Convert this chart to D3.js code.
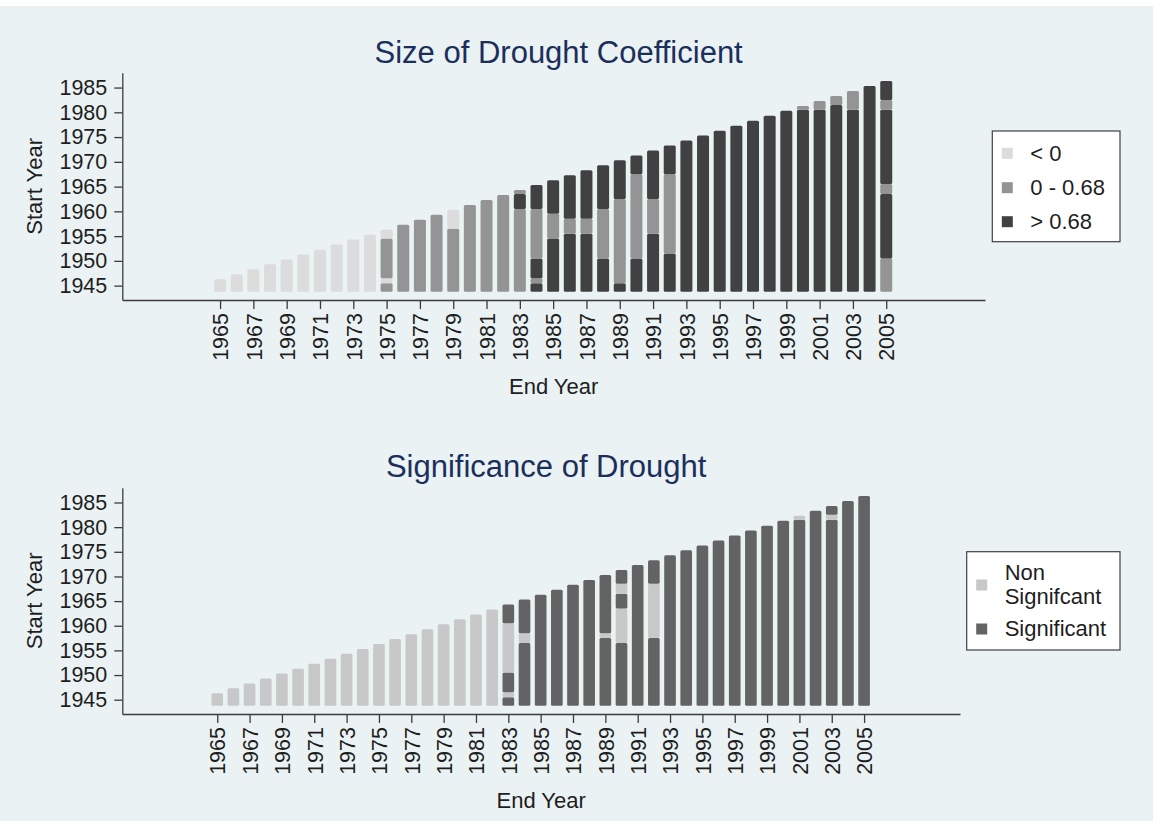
<!DOCTYPE html>
<html>
<head>
<meta charset="utf-8">
<script src="https://cdn.jsdelivr.net/npm/d3@7"></script>
<style>
  body { margin: 0; background: #fff; }
  svg { display: block; }
  text { font-family: "Liberation Sans", Arial, sans-serif; fill: #1e1e1e; }
</style>
</head>
<body>
<div id="chart"></div>
<script>
// end years on the x axis
const endYears = [1965, 1966, 1967, 1968, 1969, 1970, 1971, 1972, 1973, 1974,
  1975, 1976, 1977, 1978, 1979, 1980, 1981, 1982, 1983, 1984, 1985, 1986, 1987,
  1988, 1989, 1990, 1991, 1992, 1993, 1994, 1995, 1996, 1997, 1998, 1999, 2000,
  2001, 2002, 2003, 2004, 2005];

const xTickYears = [1965, 1967, 1969, 1971, 1973, 1975, 1977, 1979, 1981, 1983,
  1985, 1987, 1989, 1991, 1993, 1995, 1997, 1999, 2001, 2003, 2005];
const yTickYears = [1945, 1950, 1955, 1960, 1965, 1970, 1975, 1980, 1985];

// coefficient class per run of start years: [class, fromStart, toStart]
const coefLabels = [['< 0'], ['0 - 0.68'], ['> 0.68']];
const coefRuns = [
  [[0, 1944, 1946]],
  [[0, 1944, 1947]],
  [[0, 1944, 1948]],
  [[0, 1944, 1949]],
  [[0, 1944, 1950]],
  [[0, 1944, 1951]],
  [[0, 1944, 1952]],
  [[0, 1944, 1953]],
  [[0, 1944, 1954]],
  [[0, 1944, 1955]],
  [[1, 1944, 1945], [0, 1946, 1946], [1, 1947, 1954], [0, 1955, 1956]],
  [[1, 1944, 1957]],
  [[1, 1944, 1958]],
  [[1, 1944, 1959]],
  [[1, 1944, 1956], [0, 1957, 1960]],
  [[1, 1944, 1961]],
  [[1, 1944, 1962]],
  [[1, 1944, 1963]],
  [[1, 1944, 1960], [2, 1961, 1963], [1, 1964, 1964]],
  [[2, 1944, 1945], [1, 1946, 1946], [2, 1947, 1950], [1, 1951, 1960], [2, 1961, 1965]],
  [[2, 1944, 1954], [1, 1955, 1959], [2, 1960, 1966]],
  [[2, 1944, 1955], [1, 1956, 1958], [2, 1959, 1967]],
  [[2, 1944, 1955], [1, 1956, 1958], [2, 1959, 1968]],
  [[2, 1944, 1950], [1, 1951, 1960], [2, 1961, 1969]],
  [[2, 1944, 1945], [1, 1946, 1962], [2, 1963, 1970]],
  [[2, 1944, 1950], [1, 1951, 1967], [2, 1968, 1971]],
  [[2, 1944, 1955], [1, 1956, 1962], [2, 1963, 1972]],
  [[2, 1944, 1951], [1, 1952, 1967], [2, 1968, 1973]],
  [[2, 1944, 1974]],
  [[2, 1944, 1975]],
  [[2, 1944, 1976]],
  [[2, 1944, 1977]],
  [[2, 1944, 1978]],
  [[2, 1944, 1979]],
  [[2, 1944, 1980]],
  [[2, 1944, 1980], [1, 1981, 1981]],
  [[2, 1944, 1980], [1, 1981, 1982]],
  [[2, 1944, 1981], [1, 1982, 1983]],
  [[2, 1944, 1980], [1, 1981, 1984]],
  [[2, 1944, 1985]],
  [[1, 1944, 1950], [2, 1951, 1963], [1, 1964, 1965], [2, 1966, 1980], [1, 1981, 1982], [2, 1983, 1986]]
];

// significance per run of start years: 0 = non significant, 1 = significant
const sigLabels = [['Non', 'Signifcant'], ['Significant']];
const sigRuns = [
  [[0, 1944, 1946]],
  [[0, 1944, 1947]],
  [[0, 1944, 1948]],
  [[0, 1944, 1949]],
  [[0, 1944, 1950]],
  [[0, 1944, 1951]],
  [[0, 1944, 1952]],
  [[0, 1944, 1953]],
  [[0, 1944, 1954]],
  [[0, 1944, 1955]],
  [[0, 1944, 1956]],
  [[0, 1944, 1957]],
  [[0, 1944, 1958]],
  [[0, 1944, 1959]],
  [[0, 1944, 1960]],
  [[0, 1944, 1961]],
  [[0, 1944, 1962]],
  [[0, 1944, 1963]],
  [[1, 1944, 1945], [0, 1946, 1946], [1, 1947, 1950], [0, 1951, 1960], [1, 1961, 1964]],
  [[1, 1944, 1956], [0, 1957, 1958], [1, 1959, 1965]],
  [[1, 1944, 1966]],
  [[1, 1944, 1967]],
  [[1, 1944, 1968]],
  [[1, 1944, 1969]],
  [[1, 1944, 1957], [0, 1958, 1958], [1, 1959, 1970]],
  [[1, 1944, 1956], [0, 1957, 1963], [1, 1964, 1966], [0, 1967, 1968], [1, 1969, 1971]],
  [[1, 1944, 1972]],
  [[1, 1944, 1957], [0, 1958, 1968], [1, 1969, 1973]],
  [[1, 1944, 1974]],
  [[1, 1944, 1975]],
  [[1, 1944, 1976]],
  [[1, 1944, 1977]],
  [[1, 1944, 1978]],
  [[1, 1944, 1979]],
  [[1, 1944, 1980]],
  [[1, 1944, 1981]],
  [[1, 1944, 1981], [0, 1982, 1982]],
  [[1, 1944, 1983]],
  [[1, 1944, 1981], [0, 1982, 1982], [1, 1983, 1984]],
  [[1, 1944, 1985]],
  [[1, 1944, 1986]]
];

const width = 1153;
const height = 821;
const font = '"Liberation Sans", Arial, sans-serif';

const svg = d3
  .select('#chart')
  .append('svg')
  .attr('width', width)
  .attr('height', height);

// stata-like graph region
svg
  .append('rect')
  .attr('x', 0)
  .attr('y', 6)
  .attr('width', width)
  .attr('height', height - 6)
  .attr('fill', '#eaf2f3');

const panels = [
  {
    title: 'Size of Drought Coefficient',
    runs: coefRuns,
    labels: coefLabels,
    colors: ['#dcdcdc', '#949494', '#414141'],
    left: 122.3,
    right: 985,
    top: 72.7,
    bottom: 300,
    titleY: 52,
    xTitleY: 386,
    legend: { x: 992.3, y: 131, w: 127.7, h: 110.7, rows: [22.3, 56.7, 90.7] }
  },
  {
    title: 'Significance of Drought',
    runs: sigRuns,
    labels: sigLabels,
    colors: ['#c8c8c8', '#636363'],
    left: 122.3,
    right: 960,
    top: 487.7,
    bottom: 714,
    titleY: 466,
    xTitleY: 800,
    legend: { x: 966.7, y: 551.7, w: 153.3, h: 98.3, rows: [33.3, 77.3] }
  }
];

panels.forEach(p => drawPanel(p));

function drawPanel(p) {
  let g = svg.append('g');

  let x = d3
    .scaleLinear()
    .domain([1959.13, 2010.93])
    .range([p.left, p.right]);

  let y = d3
    .scaleLinear()
    .domain([1942.1, 1988.0])
    .range([p.bottom, p.top]);

  let barW = 0.72 * (x(1) - x(0));

  // one group per end year, stacked runs of start years
  let bars = g
    .selectAll('g.bar')
    .data(endYears.map((e, i) => ({ end: e, runs: p.runs[i] })))
    .enter()
    .append('g')
    .attr('class', 'bar');

  bars
    .selectAll('rect')
    .data(d => {
      let first = d3.min(d.runs, r => r[1]);
      let last = d3.max(d.runs, r => r[2]);
      return d.runs.map(r => ({
        end: d.end,
        cls: r[0],
        lo: r[1] === first ? r[1] - 0.25 : r[1] - 0.5,
        hi: r[2] === last ? r[2] + 0.3 : r[2] + 0.5
      }));
    })
    .enter()
    .append('rect')
    .attr('x', d => x(d.end) - barW / 2)
    .attr('width', barW)
    .attr('y', d => y(d.hi))
    .attr('height', d => y(d.lo) - y(d.hi))
    .attr('rx', 1.5)
    .attr('fill', d => p.colors[d.cls]);

  // axes
  let xAxis = d3
    .axisBottom(x)
    .tickValues(xTickYears)
    .tickFormat(d3.format('d'))
    .tickSize(9)
    .tickSizeOuter(0);

  let gx = g
    .append('g')
    .attr('transform', `translate(0, ${p.bottom})`)
    .call(xAxis);

  gx.selectAll('text')
    .attr('transform', 'rotate(-90)')
    .attr('text-anchor', 'end')
    .attr('x', -13)
    .attr('y', 0)
    .attr('dy', '0.36em');

  let yAxis = d3
    .axisLeft(y)
    .tickValues(yTickYears)
    .tickFormat(d3.format('d'))
    .tickSize(8)
    .tickSizeOuter(0);

  let gy = g
    .append('g')
    .attr('transform', `translate(${p.left}, 0)`)
    .call(yAxis);

  gy.selectAll('text').attr('x', -15);

  [gx, gy].forEach(a => {
    a.selectAll('path, line').attr('stroke', '#3c3c3c').attr('stroke-width', 1.3);
    a.selectAll('text')
      .style('font-family', font)
      .style('font-size', '21.5px')
      .attr('fill', '#1e1e1e');
  });

  // titles
  g.append('text')
    .attr('x', (p.left + p.right) / 2 + 5)
    .attr('y', p.titleY)
    .attr('text-anchor', 'middle')
    .attr('dominant-baseline', 'central')
    .style('font-size', '31px')
    .style('fill', '#1c2f5c')
    .text(p.title);

  g.append('text')
    .attr('x', (p.left + p.right) / 2)
    .attr('y', p.xTitleY)
    .attr('text-anchor', 'middle')
    .attr('dominant-baseline', 'central')
    .style('font-size', '22px')
    .text('End Year');

  g.append('text')
    .attr('transform', `translate(34, ${(p.top + p.bottom) / 2}) rotate(-90)`)
    .attr('text-anchor', 'middle')
    .attr('dominant-baseline', 'central')
    .style('font-size', '22px')
    .text('Start Year');

  // legend
  let lg = g
    .append('g')
    .attr('transform', `translate(${p.legend.x}, ${p.legend.y})`);

  lg.append('rect')
    .attr('width', p.legend.w)
    .attr('height', p.legend.h)
    .attr('fill', '#fff')
    .attr('stroke', '#404040')
    .attr('stroke-width', 1.2);

  p.labels.forEach((lines, i) => {
    let cy = p.legend.rows[i];
    lg.append('rect')
      .attr('x', 9.5)
      .attr('y', cy - 5.5)
      .attr('width', 11)
      .attr('height', 11)
      .attr('fill', p.colors[i]);

    lines.forEach((line, j) => {
      lg.append('text')
        .attr('x', 38)
        .attr('y', cy + (j - (lines.length - 1) / 2) * 24)
        .attr('dominant-baseline', 'central')
        .style('font-size', '22px')
        .text(line);
    });
  });
}
</script>
</body>
</html>
